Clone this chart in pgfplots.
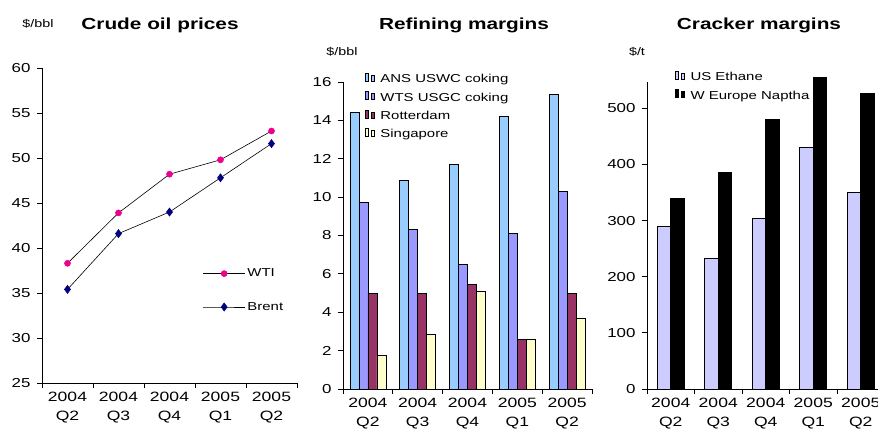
\documentclass[border=0pt]{standalone}
\usepackage{pgfplots}
\pgfplotsset{compat=1.18}
\usepackage{fontspec}
\setmainfont{Liberation Sans}[FakeStretch=1.3]
\definecolor{ansblue}{HTML}{99CCFF}
\definecolor{wtsblue}{HTML}{9999FF}
\definecolor{rotred}{HTML}{993366}
\definecolor{singy}{HTML}{FFFFCC}
\definecolor{ethane}{HTML}{CCCCFF}
\definecolor{navy}{HTML}{000080}
\pgfplotsset{
  mybase/.style={
    scale only axis,
    anchor=south west,
    axis lines=left,
    axis line style={black, line width=0.8pt, -},
    tick align=outside,
    major tick length=5pt,
    tick style={black, line width=0.8pt},
    xmin=-0.5, xmax=4.5,
    xtick={-0.5,0.5,1.5,2.5,3.5,4.5},
    xticklabels={2004\\Q2,2004\\Q3,2004\\Q4,2005\\Q1,2005\\Q2,{}},
    xticklabel style={align=center, font=\fontsize{13.5}{19}\selectfont, xshift=#1, yshift=-1pt},
    yticklabel style={font=\fontsize{13}{14}\selectfont, xshift=-3pt},
    /pgf/number format/assume math mode=true,
    clip=false,
  },
  barlegend/.style={
    legend image code/.code={\filldraw[##1, draw=black, line width=0.5pt] (0pt,-3.5pt) rectangle (7pt,3.5pt);},
    legend cell align=left,
    legend style={draw=none, fill=none, inner sep=0pt, row sep=4.5pt,
      font=\fontsize{11.5}{13}\selectfont,
      /tikz/every odd column/.append style={column sep=4pt}},
  },
}
\begin{document}
\begin{tikzpicture}
% ---------- Chart 1 ----------
\begin{axis}[mybase=25.5pt,
  at={(42pt,49pt)}, width=255pt, height=315pt,
  ymin=25, ymax=60, ytick={25,30,...,60},
  legend image code/.code={\draw[mark repeat=2,mark phase=2,#1] plot coordinates {(0pt,0pt) (21pt,0pt) (42pt,0pt)};},
  legend cell align=left,
  legend style={draw=none, fill=none, inner sep=0pt, row sep=20pt,
    font=\fontsize{11.5}{13}\selectfont, at={(axis cs:2.65,35.3)}, anchor=west},
]
\addplot[black, line width=0.6pt, mark=*, mark size=3pt, mark options={fill=magenta, draw=magenta}]
  coordinates {(0,38.3) (1,43.9) (2,48.2) (3,49.8) (4,53.0)};
\addlegendentry{WTI}
\addplot[black, line width=0.6pt, mark=diamond*, mark size=4pt, mark options={fill=navy, draw=navy}]
  coordinates {(0,35.4) (1,41.6) (2,44.0) (3,47.8) (4,51.6)};
\addlegendentry{Brent}
\end{axis}
\node[font=\fontsize{16}{19}\selectfont\bfseries] at (160pt,407pt) {Crude oil prices};
\node[font=\fontsize{11}{13}\selectfont] at (38pt,408pt) {\$/bbl};
% ---------- Chart 2 ----------
\begin{axis}[mybase=24.9pt, barlegend,
  at={(343pt,43pt)}, width=249pt, height=307pt,
  ymin=0, ymax=16, ytick={0,2,...,16},
  ybar=0pt, bar width=9pt,
  legend style={at={(axis cs:-0.07,16.5)}, anchor=north west},
]
\addplot[fill=ansblue, draw=black, line width=0.8pt] coordinates {(0,14.4) (1,10.85) (2,11.7) (3,14.2) (4,15.35)};
\addlegendentry{ANS USWC coking}
\addplot[fill=wtsblue, draw=black, line width=0.8pt] coordinates {(0,9.7) (1,8.3) (2,6.5) (3,8.1) (4,10.3)};
\addlegendentry{WTS USGC coking}
\addplot[fill=rotred, draw=black, line width=0.8pt] coordinates {(0,5.0) (1,5.0) (2,5.45) (3,2.6) (4,5.0)};
\addlegendentry{Rotterdam}
\addplot[fill=singy, draw=black, line width=0.8pt] coordinates {(0,1.75) (1,2.85) (2,5.1) (3,2.6) (4,3.7)};
\addlegendentry{Singapore}
\end{axis}
\node[font=\fontsize{16}{19}\selectfont\bfseries] at (464pt,407pt) {Refining margins};
\node[font=\fontsize{11}{13}\selectfont] at (342pt,380pt) {\$/bbl};
% ---------- Chart 3 ----------
\begin{axis}[mybase=23.75pt, barlegend,
  at={(647pt,43pt)}, width=237.5pt, height=307pt,
  ymin=0, ymax=547, ytick={0,100,...,500},
  ybar=0pt, bar width=13.5pt,
  legend style={at={(axis cs:0.08,568)}, anchor=north west},
]
\addplot[fill=ethane, draw=black, line width=0.8pt] coordinates {(0,290) (1,233) (2,304) (3,430) (4,350)};
\addlegendentry{US Ethane}
\addplot[fill=black, draw=black, line width=0.8pt] coordinates {(0,340) (1,386) (2,480) (3,555) (4,527)};
\addlegendentry{W Europe Naptha}
\end{axis}
\node[font=\fontsize{16}{19}\selectfont\bfseries] at (759pt,407pt) {Cracker margins};
\node[font=\fontsize{11}{13}\selectfont] at (637pt,380pt) {\$/t};
\pgfresetboundingbox
\path[use as bounding box] (0pt,0pt) rectangle (878pt,432pt);
\end{tikzpicture}
\end{document}
